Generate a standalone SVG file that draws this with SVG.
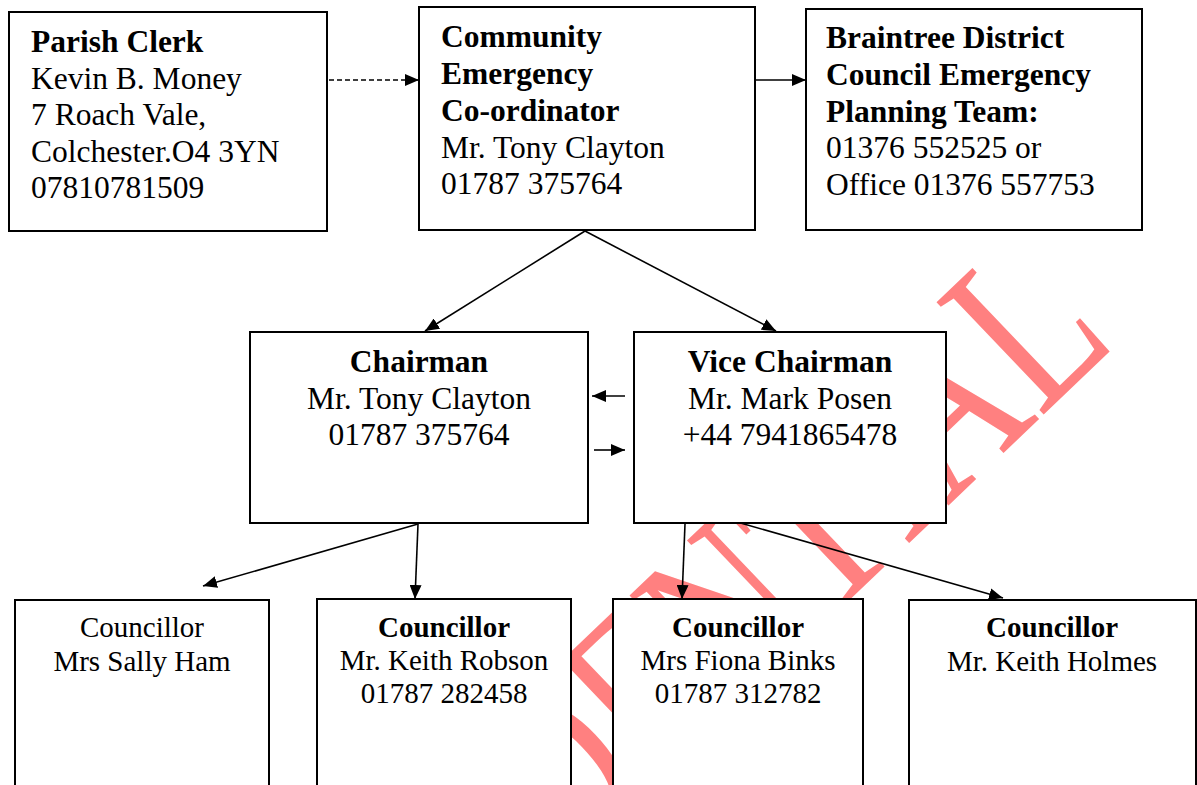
<svg xmlns="http://www.w3.org/2000/svg" width="1197" height="785" viewBox="0 0 1197 785">
<style>
.box{fill:#fff;stroke:#000;stroke-width:2}
.t{font-family:"Liberation Serif","Times New Roman",serif;font-size:31.5px;fill:#000}
.s{font-family:"Liberation Serif","Times New Roman",serif;font-size:29px;fill:#000}
.c{text-anchor:middle}
.b{font-weight:bold}
.ln{stroke:#000;stroke-width:1.6;fill:none;marker-end:url(#ah)}
.wm{font-family:"Liberation Serif","Times New Roman",serif;font-size:237px;fill:#ff8080;text-anchor:end}
</style>
<defs>
<marker id="ah" viewBox="0 0 14 12" refX="14" refY="6" markerWidth="14" markerHeight="12" markerUnits="userSpaceOnUse" orient="auto">
<path d="M0,0 L14,6 L0,12 z" fill="#000"/>
</marker>
</defs>
<rect width="1197" height="785" fill="#fff"/>
<g id="watermark">
<text class="wm" transform="translate(1118.5,343) rotate(-43.7) scale(0.75,1)">CONFIDENTIAL</text>
</g>
<g id="connectors">
<line class="ln" x1="329" y1="80" x2="419" y2="80" stroke-dasharray="5,3"/>
<line class="ln" x1="756" y1="80" x2="806" y2="80"/>
<line class="ln" x1="585" y1="231" x2="425" y2="331"/>
<line class="ln" x1="585" y1="231" x2="776" y2="331"/>
<line class="ln" x1="625" y1="396" x2="592" y2="396"/>
<line class="ln" x1="594" y1="450" x2="625" y2="450"/>
<line class="ln" x1="418" y1="524" x2="203" y2="586"/>
<line class="ln" x1="418" y1="524" x2="415" y2="599"/>
<line class="ln" x1="685" y1="524" x2="682" y2="599"/>
<line class="ln" x1="737" y1="522" x2="1003" y2="598"/>
</g>
<g id="parish-clerk">
<rect class="box" x="9" y="12" width="318" height="219"/>
<text class="t b" x="31" y="52">Parish Clerk</text>
<text class="t" x="31" y="88.5">Kevin B. Money</text>
<text class="t" x="31" y="125">7 Roach Vale,</text>
<text class="t" x="31" y="161.5">Colchester.O4 3YN</text>
<text class="t" x="31" y="198">07810781509</text>
</g>
<g id="coordinator">
<rect class="box" x="419" y="7" width="336" height="223"/>
<text class="t b" x="441" y="47">Community</text>
<text class="t b" x="441" y="84">Emergency</text>
<text class="t b" x="441" y="121">Co-ordinator</text>
<text class="t" x="441" y="158">Mr. Tony Clayton</text>
<text class="t" x="441" y="194">01787 375764</text>
</g>
<g id="braintree">
<rect class="box" x="806" y="9" width="336" height="221"/>
<text class="t b" x="826" y="48">Braintree District</text>
<text class="t b" x="826" y="85">Council Emergency</text>
<text class="t b" x="826" y="122">Planning Team:</text>
<text class="t" x="826" y="158">01376 552525 or</text>
<text class="t" x="826" y="195">Office 01376 557753</text>
</g>
<g id="chairman">
<rect class="box" x="250" y="332" width="338" height="191"/>
<text class="t c b" x="419" y="372">Chairman</text>
<text class="t c" x="419" y="409">Mr. Tony Clayton</text>
<text class="t c" x="419" y="445">01787 375764</text>
</g>
<g id="vice-chairman">
<rect class="box" x="634" y="332" width="312" height="191"/>
<text class="t c b" x="790" y="372">Vice Chairman</text>
<text class="t c" x="790" y="409">Mr. Mark Posen</text>
<text class="t c" x="790" y="445">+44 7941865478</text>
</g>
<g id="cllr-ham">
<rect class="box" x="15" y="600" width="254" height="200"/>
<text class="s c" x="142" y="637">Councillor</text>
<text class="s c" x="142" y="671">Mrs Sally Ham</text>
</g>
<g id="cllr-robson">
<rect class="box" x="317" y="599" width="254" height="200"/>
<text class="s c b" x="444" y="637">Councillor</text>
<text class="s c" x="444" y="670">Mr. Keith Robson</text>
<text class="s c" x="444" y="703">01787 282458</text>
</g>
<g id="cllr-binks">
<rect class="box" x="613" y="599" width="250" height="200"/>
<text class="s c b" x="738" y="637">Councillor</text>
<text class="s c" x="738" y="670">Mrs Fiona Binks</text>
<text class="s c" x="738" y="703">01787 312782</text>
</g>
<g id="cllr-holmes">
<rect class="box" x="909" y="600" width="287" height="200"/>
<text class="s c b" x="1052" y="637">Councillor</text>
<text class="s c" x="1052" y="671">Mr. Keith Holmes</text>
</g>
</svg>
